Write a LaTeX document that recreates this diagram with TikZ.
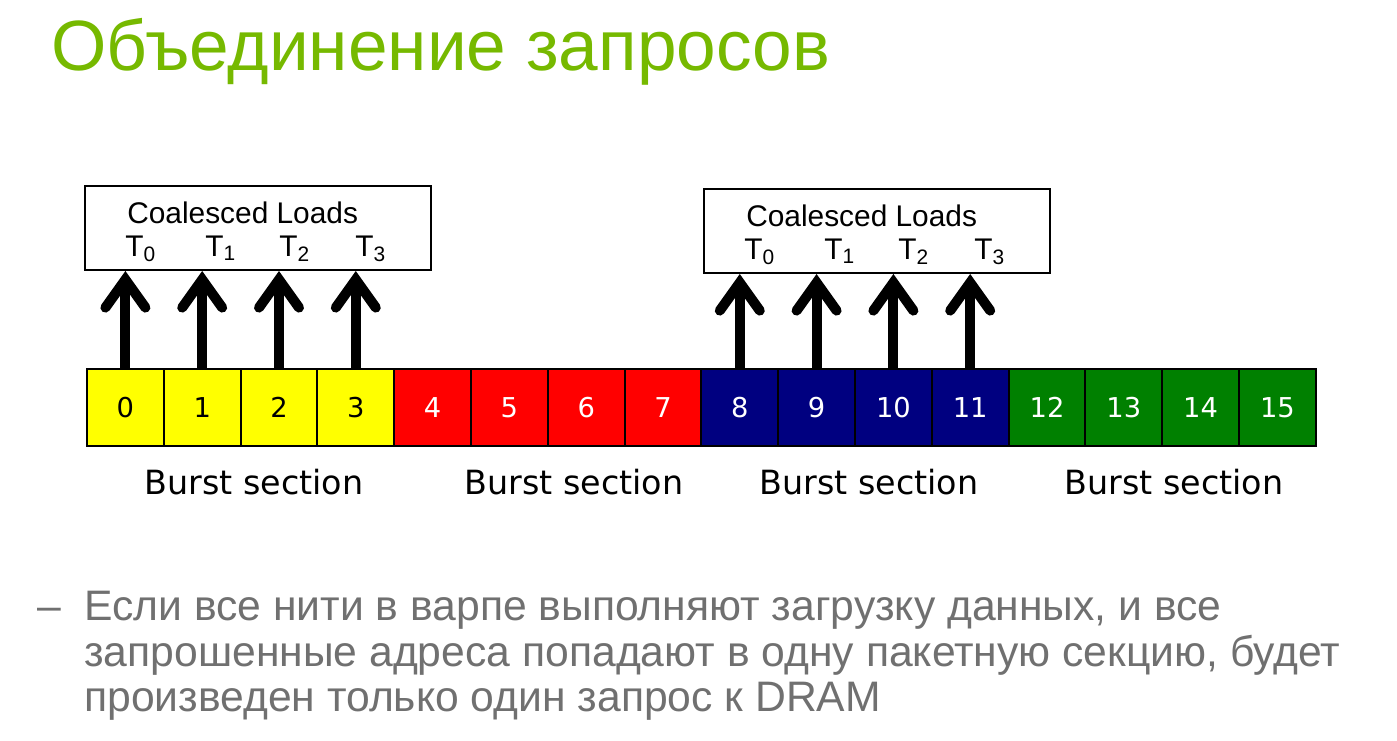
\documentclass[tikz,border=0pt]{standalone}
\usepackage{fontspec}
\setmainfont{Liberation Sans}
\newfontfamily\cellfont{DejaVu Sans}
\usetikzlibrary{arrows.meta,positioning,calc}

\definecolor{nvgreen}{HTML}{76B900}
\definecolor{txtgray}{HTML}{707070}
\definecolor{cyellow}{HTML}{FFFF00}
\definecolor{cred}{HTML}{FF0000}
\definecolor{cnavy}{HTML}{000080}
\definecolor{cgreen}{HTML}{008000}

\begin{document}
\begin{tikzpicture}
[x=0.75pt,y=-0.75pt,
cell/.style={shape=rectangle,draw=black,line width=1.5pt,minimum width=57.6pt,
  minimum height=57.5pt,inner sep=0pt,font=\cellfont\fontsize{20.5}{24}\selectfont},
loadbox/.style={shape=rectangle,draw=black,line width=1.5pt,minimum width=259.5pt,
  minimum height=63pt,inner sep=0pt},
loadtext/.style={inner sep=0pt,anchor=base west,font=\fontsize{22.4}{24}\selectfont},
burst/.style={inner sep=0pt,anchor=base,font=\cellfont\fontsize{25}{28}\selectfont},
notetext/.style={inner sep=0pt,anchor=base west,text=txtgray,font=\fontsize{32}{34}\selectfont},
loadarrow/.style={line width=7.5pt,-{Straight Barb[length=21pt,width=30pt,line cap=round]}}]

\useasboundingbox (0,0) rectangle (1397,740);

% title
\node (title) [inner sep=0pt,anchor=base west,text=nvgreen,
  font=\fontsize{53.4}{60}\selectfont] at (51,70) {Объединение запросов};

% memory cells
\foreach \i in {0,...,15} {
  \ifnum\i<4 \def\cfill{cyellow}\def\ctext{black}\fi
  \ifnum\i>3 \def\cfill{cred}\def\ctext{white}\fi
  \ifnum\i>7 \def\cfill{cnavy}\def\ctext{white}\fi
  \ifnum\i>11 \def\cfill{cgreen}\def\ctext{white}\fi
  \node (c\i) [cell,fill=\cfill,text=\ctext] at ({87+76.8*(\i+0.5)},407.5) {\i};
}

% burst section labels
\node (b1) [burst] at (254,494) {Burst section};
\node (b2) [burst] at (574,494) {Burst section};
\node (b3) [burst] at (869,494) {Burst section};
\node (b4) [burst] at (1174,494) {Burst section};

% coalesced loads boxes
\node (box1) [loadbox] at (258,228) {};
\node (box2) [loadbox] at (877,231) {};
\node (cl1) [loadtext] at (127,223) {Coalesced Loads};
\node (cl2) [loadtext] at (746,226) {Coalesced Loads};
\foreach \j/\x in {0/125,1/205,2/279,3/355} {
  \node (ta\j) [loadtext] at (\x,256) {T\textsubscript{\j}};
  \node (tb\j) [loadtext] at (\x+619,259) {T\textsubscript{\j}};
}

% arrows
\foreach \i in {0,...,3} {
  \draw[loadarrow] (c\i.north) -- (c\i.north |- box1.south);
}
\foreach \i in {8,...,11} {
  \draw[loadarrow] (c\i.north) -- (c\i.north |- box2.south);
}

% bullet text
\node (dash) [notetext] at (37,620) {–};
\node (note1) [notetext] at (84,620) {Если все нити в варпе выполняют загрузку данных, и все};
\node (note2) [notetext] at (84,666) {запрошенные адреса попадают в одну пакетную секцию, будет};
\node (note3) [notetext] at (84,711) {произведен только один запрос к DRAM};

\end{tikzpicture}
\end{document}
